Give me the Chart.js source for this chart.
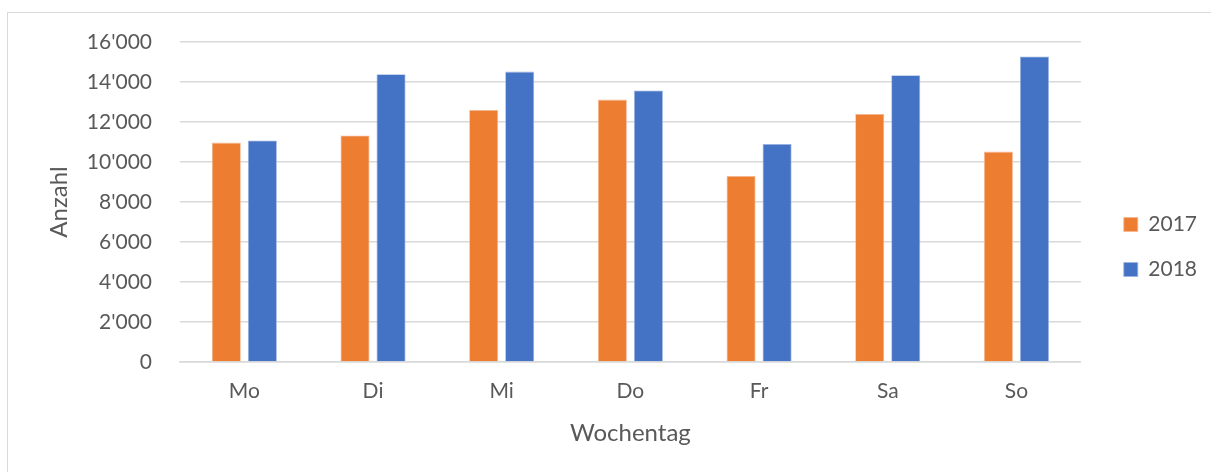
<!DOCTYPE html>
<html>
<head>
<meta charset="utf-8">
<script src="https://cdn.jsdelivr.net/npm/chart.js@4"></script>
<style>
  html, body { margin: 0; padding: 0; background: #fff; overflow: hidden; }
  .frame { position: absolute; left: 7px; top: 12px; width: 1300px; height: 600px; border: 1px solid #d9d9d9; }
  #mainChart { position: absolute; left: 0; top: 0; }
</style>
</head>
<body>
<div class="frame"></div>
<canvas id="mainChart" width="1211" height="472"></canvas>
<script>
/* ─── DATA ─── */
const days = ['Mo', 'Di', 'Mi', 'Do', 'Fr', 'Sa', 'So'];
const vals2017 = [10970, 11330, 12600, 13120, 9300, 12400, 10520];
const vals2018 = [11080, 14390, 14520, 13580, 10900, 14340, 15280];
const yTicks = [0, 2000, 4000, 6000, 8000, 10000, 12000, 14000, 16000];

const textColor = '#595959';
const gridColor = '#d9d9d9';
const fontFam = "Lato, 'Open Sans', sans-serif";

// thousands with apostrophe, swiss style
const fmt = v => String(v).replace(/\B(?=(\d{3})+(?!\d))/g, "'");

// nudge the legend into the spot Excel puts it
const legendShift = {
  id: 'legendShift',
  afterLayout(chart) {
    const lg = chart.legend;
    if (!lg) return;
    const dx = 19, dy = 45;
    lg.left += dx; lg.right += dx;
    lg.top += dy; lg.bottom += dy;
  }
};

const ctx = document.getElementById('mainChart').getContext('2d');
new Chart(ctx, {
  type: 'bar',
  data: {
    labels: days,
    datasets: [
      { label: '2017', data: vals2017, backgroundColor: '#ED7D31', borderColor: '#f6b893', borderWidth: 0.8 },
      { label: '2018', data: vals2018, backgroundColor: '#4472C4', borderColor: '#9bb4e0', borderWidth: 0.8 }
    ]
  },
  options: {
    responsive: false,
    animation: false,
    layout: { padding: { top: 42, left: 0, right: 23, bottom: 0 } },
    datasets: { bar: { categoryPercentage: 0.56, barPercentage: 0.806 } },
    plugins: {
      tooltip: { enabled: false },
      legend: {
        position: 'right',
        fullSize: false,
        labels: { color: textColor, font: { family: fontFam, size: 21 }, boxWidth: 14, boxHeight: 14, padding: 24 }
      }
    },
    scales: {
      x: {
        grid: { display: false, drawTicks: false },
        border: { color: gridColor, width: 1.5 },
        ticks: { color: textColor, font: { family: fontFam, size: 21 }, padding: 17 },
        title: { display: true, text: 'Wochentag', color: textColor, font: { family: fontFam, size: 24 }, padding: 24 },
        afterFit: s => { s.height = 110; }
      },
      y: {
        min: 0, max: 16000,
        afterBuildTicks: s => { s.ticks = yTicks.map(v => ({ value: v })); },
        grid: { color: gridColor, lineWidth: 1.5, drawTicks: false },
        border: { display: false },
        ticks: { color: textColor, font: { family: fontFam, size: 21 }, padding: 28, callback: v => fmt(v) },
        title: { display: true, text: 'Anzahl', color: textColor, font: { family: fontFam, size: 24 }, padding: 45 },
        afterFit: s => { s.width = 180; }
      }
    }
  },
  plugins: [legendShift]
});
</script>
</body>
</html>
